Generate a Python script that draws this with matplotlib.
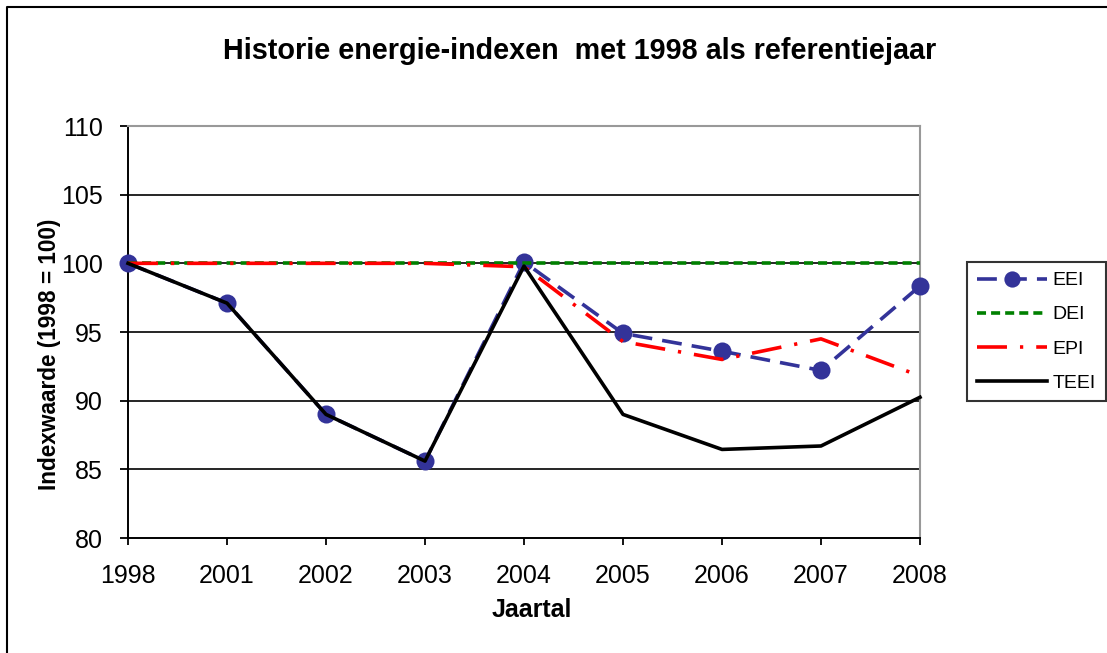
import matplotlib
matplotlib.use("Agg")
import matplotlib.pyplot as plt
from matplotlib.lines import Line2D

plt.rcParams['font.family'] = ['Liberation Sans', 'DejaVu Sans']

years = ['1998', '2001', '2002', '2003', '2004', '2005', '2006', '2007', '2008']
eei = [100.0, 97.1, 89.0, 85.6, 100.1, 94.9, 93.6, 92.2, 98.35]
dei = [100.0, 100.0, 100.0, 100.0, 100.0, 100.0, 100.0, 100.0, 100.0]
epi = [100.0, 100.0, 100.0, 100.0, 99.75, 94.3, 93.0, 94.5, 91.8]
teei = [100.0, 97.1, 89.0, 85.6, 99.8, 89.0, 86.45, 86.7, 90.25]
yticks = [80, 85, 90, 95, 100, 105, 110]

W, H = 1107, 653
fig = plt.figure(figsize=(W / 100, H / 100), dpi=100)
ax = fig.add_axes([128 / W, 1 - 538 / H, (920 - 128) / W, (538 - 126) / H])

x = list(range(len(years)))
lw = 2.6
ax.plot(x, eei, color='#333399', lw=lw, dashes=(5.5, 2.8), marker='o',
        markersize=13, markeredgewidth=0, label='EEI', zorder=3, clip_on=False)
ax.plot(x, dei, color='#008000', lw=lw, dashes=(2.5, 1.4), label='DEI', zorder=4, clip_on=False)
ax.plot(x, epi, color='#ff0000', lw=lw, dashes=(8.3, 3.6, 0.9, 3.6), label='EPI', zorder=5, clip_on=False)
ax.plot(x, teei, color='black', lw=lw, label='TEEI', zorder=6, clip_on=False)

ax.set_xlim(0, len(years) - 1)
ax.set_ylim(80, 110)
ax.set_xticks(x)
ax.set_xticklabels(years)
ax.set_yticks(yticks)
ax.set_yticklabels([str(v) for v in yticks])

for v in yticks[1:-1]:
    ax.axhline(v, color='black', lw=1.2, zorder=1)

ax.spines['top'].set_color('#999999')
ax.spines['right'].set_color('#999999')
ax.spines['top'].set_linewidth(1.5)
ax.spines['right'].set_linewidth(1.5)
ax.spines['left'].set_linewidth(1.4)
ax.spines['bottom'].set_linewidth(1.4)

ax.tick_params(axis='y', direction='out', length=6, width=1.3, labelsize=18, pad=12)
ax.tick_params(axis='x', direction='out', length=5, width=1.3, labelsize=18, pad=14)

fig.text(580 / W, 1 - 59 / H, 'Historie energie-indexen  met 1998 als referentiejaar',
         ha='center', va='baseline', fontsize=20.7, fontweight='bold')
fig.text(532 / W, 1 - 617 / H, 'Jaartal', ha='center', va='baseline',
         fontsize=18, fontweight='bold')
fig.text(50 / W, 1 - 354 / H, 'Indexwaarde (1998 = 100)', ha='center', va='center',
         rotation=90, fontsize=16.3, fontweight='bold')

leg = fig.legend(loc='upper left', bbox_to_anchor=(967 / W, 1 - 262 / H),
                 bbox_transform=fig.transFigure, fontsize=14, frameon=True,
                 fancybox=False, edgecolor='black', handlelength=3.6,
                 handletextpad=0.3, labelspacing=0.85, borderpad=0.5,
                 markerscale=0.9, borderaxespad=0)
leg.get_frame().set_linewidth(1.5)

# outer chart border
fig.add_artist(Line2D([7 / W, 7 / W, 1.0], [0.0, 1 - 7 / H, 1 - 7 / H],
                      transform=fig.transFigure, color='black', lw=1.5))

fig.savefig('out.png', dpi=100)
